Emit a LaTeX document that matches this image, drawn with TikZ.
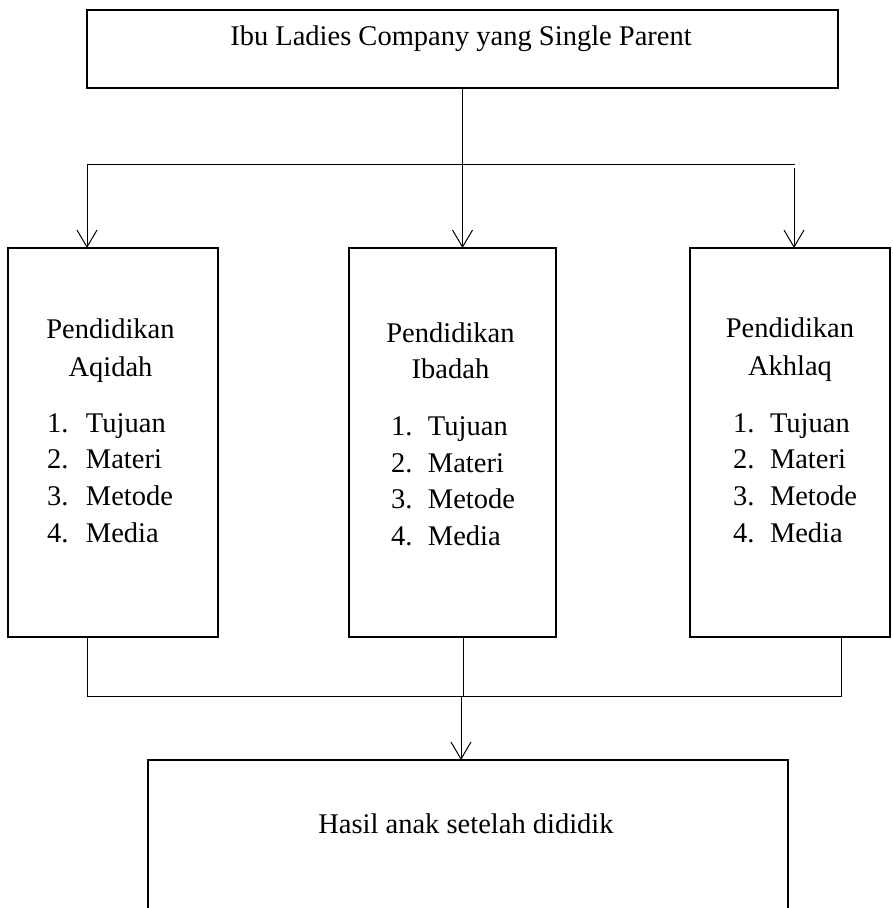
\documentclass[tikz,border=0pt]{standalone}
\usepackage{fontspec}
\setmainfont{Liberation Serif}
\usetikzlibrary{arrows.meta}
\begin{document}
\begin{tikzpicture}[x=1pt,y=-1pt,
  box/.style={draw, line width=2.3pt, inner sep=0pt, outer sep=0pt},
  conn/.style={line width=1pt},
  arr/.style={conn, -{Straight Barb[length=17pt,width=20pt,line width=1pt]}},
  txt/.style={inner sep=0pt, outer sep=0pt, font=\fontsize{28.5}{34}\selectfont},
  itm/.style={txt, anchor=base west},
]
\useasboundingbox (0,0) rectangle (892,908);
\clip (0,0) rectangle (892,908);

% boxes
\node[box, minimum width=751pt, minimum height=78pt] (top) at (462.5,49) {};
\node[box, minimum width=210pt, minimum height=389pt] (l) at (113,442.5) {};
\node[box, minimum width=207pt, minimum height=389pt] (m) at (452.5,442.5) {};
\node[box, minimum width=200pt, minimum height=389pt] (r) at (790,442.5) {};
\node[box, minimum width=640pt, minimum height=200pt] (b) at (468,860) {};

% texts
\node[txt, anchor=base] (tt) at (461,45) {Ibu Ladies Company yang Single Parent};
\node[txt, anchor=base] (bt) at (466,833) {Hasil anak setelah dididik};

\node[txt, anchor=base] (lh1) at (110.5,338) {Pendidikan};
\node[txt, anchor=base] (lh2) at (110.5,376) {Aqidah};
\node[itm] (l1) at (47,432) {\makebox[39pt][l]{1.}Tujuan};
\node[itm] (l2) at (47,468) {\makebox[39pt][l]{2.}Materi};
\node[itm] (l3) at (47,505) {\makebox[39pt][l]{3.}Metode};
\node[itm] (l4) at (47,542) {\makebox[39pt][l]{4.}Media};

\node[txt, anchor=base] (mh1) at (450.5,342) {Pendidikan};
\node[txt, anchor=base] (mh2) at (450.5,378) {Ibadah};
\node[itm] (m1) at (391,435) {\makebox[37pt][l]{1.}Tujuan};
\node[itm] (m2) at (391,472) {\makebox[37pt][l]{2.}Materi};
\node[itm] (m3) at (391,508) {\makebox[37pt][l]{3.}Metode};
\node[itm] (m4) at (391,545) {\makebox[37pt][l]{4.}Media};

\node[txt, anchor=base] (rh1) at (790,337) {Pendidikan};
\node[txt, anchor=base] (rh2) at (790,375) {Akhlaq};
\node[itm] (r1) at (733,432) {\makebox[37pt][l]{1.}Tujuan};
\node[itm] (r2) at (733,468) {\makebox[37pt][l]{2.}Materi};
\node[itm] (r3) at (733,505) {\makebox[37pt][l]{3.}Metode};
\node[itm] (r4) at (733,542) {\makebox[37pt][l]{4.}Media};

% top connectors
\coordinate (sl) at (87,164);
\coordinate (sr) at (795,164);
\coordinate (sr2) at (794,168);
\draw[arr] (top.south) -- (top.south |- m.north);
\draw[conn] (sl) -- (sr);
\draw[arr] (sl) -- (sl |- l.north);
\draw[arr] (sr2) -- (sr2 |- r.north);

% bottom connectors
\coordinate (jl) at (87,696);
\coordinate (jr) at (841,696);
\coordinate (jm) at (463,696);
\coordinate (ja) at (461,696);
\draw[conn] (jl |- l.south) -- (jl) -- (jr) -- (jr |- r.south);
\draw[conn] (jm |- m.south) -- (jm);
\draw[arr] (ja) -- (ja |- b.north);
\end{tikzpicture}
\end{document}
